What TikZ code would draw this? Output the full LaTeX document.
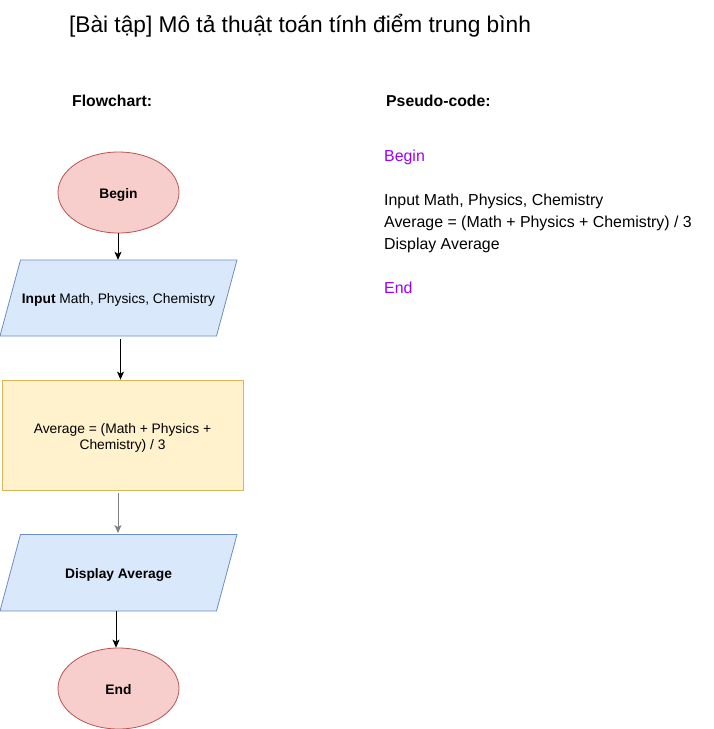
\documentclass[tikz,border=0pt]{standalone}
\usepackage{fontspec}
\setmainfont{Liberation Sans}
\usetikzlibrary{shapes.geometric,arrows.meta}
\definecolor{redfill}{HTML}{F8CECC}
\definecolor{redline}{HTML}{B85450}
\definecolor{bluefill}{HTML}{DAE8FC}
\definecolor{blueline}{HTML}{6C8EBF}
\definecolor{yelfill}{HTML}{FFF2CC}
\definecolor{yelline}{HTML}{D6B656}
\definecolor{purp}{HTML}{9900FF}
\begin{document}
\begin{tikzpicture}[x=1pt,y=-1pt,
  term/.style={ellipse,draw=redline,fill=redfill,line width=0.8pt,minimum width=121pt,minimum height=81pt,inner sep=0pt,text height=11.5pt,text depth=0pt,font=\fontsize{13.8}{16}\selectfont\bfseries},
  iobox/.style={draw=blueline,fill=bluefill,line width=0.8pt},
  iotext/.style={rectangle,minimum width=217pt,minimum height=76pt,inner sep=0pt,text height=11.5pt,text depth=0pt,font=\fontsize{13.8}{16}\selectfont},
  procbox/.style={rectangle,draw=yelline,fill=yelfill,line width=0.8pt,minimum width=241pt,minimum height=110pt,inner sep=0pt},
  proctext/.style={inner sep=0pt,align=center,font=\fontsize{13.8}{16}\selectfont},
  arr/.style={line width=0.8pt,-{Stealth[length=8pt,width=7pt,inset=2pt]}},
  head/.style={anchor=base west,inner sep=0pt,font=\fontsize{15.8}{19}\selectfont\bfseries},
  code/.style={anchor=base west,inner sep=0pt,font=\fontsize{15.9}{22}\selectfont}
]
\useasboundingbox (0,0) rectangle (713,729);
\fill[white] (0,0) rectangle (713,729);

\node[anchor=base,inner sep=0pt,font=\fontsize{22.7}{26}\selectfont] (title) at (300,32) {[Bài tập] Mô tả thuật toán tính điểm trung bình};
\node[head] (fc) at (72,106) {Flowchart:};
\node[head] (pc) at (386,106) {Pseudo-code:};

\node[term] (begin) at (118.5,192.5) {Begin};

\draw[iobox] (20.5,260) -- (237,260) -- (216.5,336) -- (0,336) -- cycle;
\node[iotext] (inp) at (118.5,298) {\textbf{Input} Math, Physics, Chemistry};

\node[procbox] (calc) at (122.5,435) {};
\node[proctext] (calctext) at (122.5,437.5) {Average = (Math + Physics +\\Chemistry) / 3};

\draw[iobox] (20.5,534.5) -- (237,534.5) -- (216.5,611) -- (0,611) -- cycle;
\node[iotext,font=\fontsize{13.8}{16}\selectfont\bfseries] (disp) at (118.5,572.75) {Display Average};

\node[term] (end) at (118.5,688.5) {End};

\draw[arr] ([xshift=-0.5pt]begin.south) -- ([xshift=-0.5pt]inp.north);
\draw[arr,shorten <=3pt] ([xshift=2pt]inp.south) -- ([xshift=-2pt]calc.north);
\draw[arr,draw=gray,shorten <=3pt,shorten >=1.5pt] ([xshift=-4.5pt]calc.south) -- ([xshift=-0.5pt]disp.north);
\draw[arr] ([xshift=-2.5pt]disp.south) -- ([xshift=-2.5pt]end.north);

\node[code,text=purp] (c1) at (384,161) {Begin};
\node[code] (c2) at (384,205) {Input Math, Physics, Chemistry};
\node[code] (c3) at (384,227) {Average = (Math + Physics + Chemistry) / 3};
\node[code] (c4) at (384,249) {Display Average};
\node[code,text=purp] (c5) at (384,293) {End};
\end{tikzpicture}
\end{document}
